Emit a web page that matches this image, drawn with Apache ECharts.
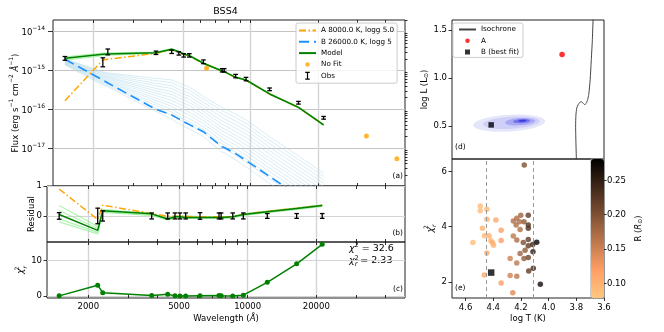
<!DOCTYPE html>
<html>
<head>
<meta charset="utf-8">
<script src="https://cdn.jsdelivr.net/npm/echarts@6/dist/echarts.min.js"></script>
<style>
html, body { margin: 0; padding: 0; background: #fff; }
#chart { width: 664px; height: 332px; }
</style>
</head>
<body>
<div id="chart"></div>
<script>
// ---- SED fit (left panels) ----
var wavelengths = [1490, 2199, 2314, 3794, 4459, 4800, 5044, 5346, 6180, 7486, 7650, 8600, 9570, 12190, 16400, 21230];
var obsFlux = [2.07e-15, 1.69e-15, 3.06e-15, 2.88e-15, 3.06e-15, 2.78e-15, 2.47e-15, 2.47e-15, 1.69e-15, 1.02e-15, 1.02e-15, 7.24e-16, 6.07e-16, 3.3e-16, 1.49e-16, 6.1e-17];
var obsRelErr = [0.11, 0.26, 0.17, 0.10, 0.10, 0.10, 0.10, 0.10, 0.11, 0.10, 0.10, 0.10, 0.10, 0.08, 0.08, 0.08];
var modelFlux = [2.07e-15, 2.62e-15, 2.67e-15, 2.88e-15, 3.53e-15, 3.06e-15, 2.67e-15, 2.42e-15, 1.54e-15, 9.75e-16, 9.4e-16, 6.7e-16, 5.71e-16, 2.5e-16, 1.13e-16, 3.98e-17];
var compAFlux = [1.68e-16, 1.87e-15, 1.95e-15, 2.78e-15, 3.45e-15, 3.0e-15, 2.62e-15, 2.38e-15, 1.52e-15, 9.65e-16, 9.3e-16, 6.63e-16, 5.66e-16, 2.48e-16, 1.125e-16, 3.97e-17];
var compBFlux = [1.95e-15, 5.7e-16, 4.8e-16, 1.0e-16, 7.2e-17, 5.7e-17, 4.8e-17, 4.07e-17, 2.67e-17, 1.1e-17, 1.05e-17, 7.26e-18, 4.85e-18, 1.88e-18, 5.9e-19, 2.2e-19];
var modelSamples = [
  [2.25e-15, 2.80e-15, 2.85e-15, 3.00e-15, 3.65e-15, 3.15e-15, 2.74e-15, 2.48e-15, 1.57e-15, 9.9e-16, 9.55e-16, 6.8e-16, 5.8e-16, 2.55e-16, 1.16e-16, 4.1e-17],
  [1.97e-15, 2.70e-15, 2.74e-15, 2.93e-15, 3.58e-15, 3.10e-15, 2.70e-15, 2.45e-15, 1.55e-15, 9.8e-16, 9.45e-16, 6.75e-16, 5.75e-16, 2.52e-16, 1.14e-16, 4.0e-17],
  [1.85e-15, 2.42e-15, 2.50e-15, 2.76e-15, 3.42e-15, 2.98e-15, 2.60e-15, 2.36e-15, 1.50e-15, 9.6e-16, 9.25e-16, 6.6e-16, 5.62e-16, 2.45e-16, 1.10e-16, 3.86e-17]
];
// log10 flux of the B-component posterior samples
var compBSamplesLog = [
  [-14.70, -15.03, -15.06, -15.20, -15.24, -15.32, -15.37, -15.42, -15.67, -15.95, -15.98, -16.12, -16.27, -16.70, -17.20, -17.64],
  [-14.71, -15.05, -15.08, -15.26, -15.31, -15.40, -15.45, -15.50, -15.74, -16.03, -16.06, -16.21, -16.36, -16.79, -17.29, -17.72],
  [-14.72, -15.08, -15.11, -15.33, -15.39, -15.48, -15.53, -15.58, -15.82, -16.12, -16.15, -16.30, -16.45, -16.88, -17.38, -17.81],
  [-14.73, -15.10, -15.14, -15.39, -15.46, -15.55, -15.61, -15.66, -15.90, -16.21, -16.24, -16.39, -16.54, -16.97, -17.47, -17.90],
  [-14.75, -15.13, -15.17, -15.46, -15.54, -15.63, -15.69, -15.74, -15.98, -16.30, -16.32, -16.48, -16.63, -17.06, -17.56, -17.99],
  [-14.76, -15.15, -15.19, -15.52, -15.61, -15.70, -15.76, -15.82, -16.05, -16.38, -16.41, -16.57, -16.72, -17.15, -17.65, -18.08],
  [-14.77, -15.18, -15.22, -15.58, -15.69, -15.78, -15.84, -15.90, -16.13, -16.47, -16.50, -16.66, -16.82, -17.25, -17.74, -18.18],
  [-14.78, -15.20, -15.25, -15.64, -15.77, -15.86, -15.92, -15.98, -16.21, -16.55, -16.58, -16.74, -16.91, -17.33, -17.83, -18.26],
  [-14.80, -15.23, -15.28, -15.71, -15.85, -15.94, -16.00, -16.07, -16.29, -16.64, -16.67, -16.83, -17.00, -17.42, -17.92, -18.34],
  [-14.81, -15.25, -15.30, -15.77, -15.92, -16.02, -16.08, -16.15, -16.37, -16.72, -16.75, -16.92, -17.09, -17.51, -18.01, -18.43],
  [-14.82, -15.28, -15.33, -15.84, -16.00, -16.10, -16.17, -16.24, -16.45, -16.81, -16.84, -17.01, -17.18, -17.60, -18.10, -18.52],
  [-14.83, -15.31, -15.36, -15.90, -16.07, -16.18, -16.25, -16.32, -16.52, -16.89, -16.92, -17.09, -17.27, -17.69, -18.19, -18.61],
  [-14.84, -15.34, -15.39, -15.97, -16.15, -16.26, -16.33, -16.40, -16.60, -16.98, -17.01, -17.18, -17.36, -17.78, -18.28, -18.70],
  [-14.86, -15.37, -15.42, -16.05, -16.25, -16.36, -16.43, -16.50, -16.70, -17.10, -17.12, -17.30, -17.48, -17.90, -18.40, -18.80]
];
var noFitWl = [6380, 32960, 45060];
var noFitFlux = [1.15e-15, 2.07e-17, 5.4e-18];
var residModel = [0.05, -0.48, 0.17, 0.07, -0.10, -0.03, -0.03, -0.05, -0.05, -0.05, -0.05, -0.03, 0.05, 0.14, 0.25, 0.35];
var residA = [0.90, -0.12, 0.36, 0.08, -0.01, -0.01, -0.01, -0.02, -0.03, -0.03, -0.03, -0.02, 0.06, 0.15, 0.26, 0.36];
var residSamples = [
  [0.35, -0.35, 0.22, 0.08, -0.07, 0.00, 0.00, 0.00, -0.02, -0.03, -0.03, -0.02, 0.07, 0.16, 0.27, 0.37],
  [0.18, -0.42, 0.19, 0.06, -0.09, -0.02, -0.02, -0.03, -0.04, -0.04, -0.04, -0.03, 0.06, 0.15, 0.26, 0.36],
  [-0.10, -0.55, 0.14, 0.03, -0.12, -0.06, -0.06, -0.07, -0.07, -0.07, -0.07, -0.06, 0.03, 0.12, 0.23, 0.33],
  [-0.20, -0.60, 0.12, 0.02, -0.13, -0.08, -0.08, -0.08, -0.08, -0.08, -0.08, -0.07, 0.02, 0.11, 0.22, 0.32]
];
var chi2PerBand = [0.1, 3.1, 1.0, 0.17, 0.55, 0.1, 0.05, 0.05, 0.15, 0.2, 0.15, 0.05, 0.3, 3.9, 9.1, 14.6];
var majorWlTicks = [2000, 5000, 10000, 20000];
var minorWlTicks = [2000, 3000, 4000, 5000, 6000, 7000, 8000, 9000, 10000, 20000, 30000, 40000];
var fluxTicks = [1e-17, 1e-16, 1e-15, 1e-14];
var residTicks = [0, 1];
var chi2Ticks = [0, 10];

// ---- HR diagram and fit grid (right panels) ----
var isoLogT = [3.678, 3.684, 3.692, 3.700, 3.710, 3.718, 3.728, 3.740, 3.752, 3.763, 3.775, 3.787, 3.797, 3.803, 3.805, 3.803, 3.799];
var isoLogL = [1.65, 1.40, 1.185, 0.98, 0.83, 0.775, 0.735, 0.722, 0.738, 0.752, 0.745, 0.72, 0.685, 0.61, 0.50, 0.34, 0.12];
var starA = [3.903, 1.245];
var starB = [4.415, 0.51];
// density levels: centre logT, centre logL, half width, half height
var kdeLevels = [
  [4.285, 0.528, 0.26, 0.088],
  [4.27, 0.532, 0.205, 0.062],
  [4.205, 0.543, 0.108, 0.038],
  [4.195, 0.550, 0.062, 0.022],
  [4.19, 0.553, 0.03, 0.011]
];
var fitLogT = [4.494, 4.494, 4.446, 4.446, 4.381, 4.478, 4.343, 4.463, 4.430, 4.547, 4.417, 4.405, 4.398, 4.343, 4.446, 4.465, 4.343, 4.259,
  4.176, 4.278, 4.230, 4.278, 4.230, 4.144, 4.111, 4.060, 4.086, 4.113, 4.115, 4.147, 4.147, 4.147, 4.183, 4.170, 4.206, 4.178,
  4.255, 4.230, 4.206, 4.255, 4.230, 4.201, 4.211, 4.178, 4.147, 4.147, 4.147, 4.235];
var fitChi2 = [4.75, 4.58, 4.63, 4.27, 4.24, 3.94, 3.87, 3.67, 3.67, 3.43, 3.49, 3.42, 3.33, 3.50, 3.05, 2.25, 1.96, 1.61,
  6.23, 2.85, 2.69, 2.23, 2.21, 2.40, 2.50, 1.92, 3.44, 3.09, 3.36, 3.54, 3.31, 2.89, 3.43, 3.15, 3.03, 2.85,
  3.66, 3.52, 3.90, 4.21, 4.31, 4.41, 4.18, 4.18, 4.41, 4.06, 3.94, 4.06];
var fitRadius = [0.09, 0.09, 0.095, 0.10, 0.11, 0.10, 0.12, 0.095, 0.10, 0.09, 0.10, 0.105, 0.10, 0.12, 0.11, 0.11, 0.12, 0.14,
  0.20, 0.15, 0.16, 0.15, 0.16, 0.22, 0.24, 0.27, 0.28, 0.25, 0.24, 0.22, 0.22, 0.21, 0.20, 0.19, 0.18, 0.19,
  0.16, 0.17, 0.17, 0.17, 0.17, 0.18, 0.17, 0.19, 0.22, 0.23, 0.23, 0.17];
var bestFit = [4.415, 2.34];
var tempLimits = [4.445, 4.107];
var logTTicks = [3.6, 3.8, 4.0, 4.2, 4.4, 4.6];
var logLTicks = [0.5, 1.0, 1.5];
var chi2rTicks = [2, 4, 6];
var radiusTicks = [0.10, 0.15, 0.20, 0.25];

var FONT = 'DejaVu Sans';
var WL_MIN = 1318, WL_MAX = 48980;
var copperR = ['#ffc77f', '#ff9f65', '#bf784c', '#7f5033', '#402819', '#000000'];

function pairs(xs, ys) {
  return xs.map(function (x, i) { return [x, ys[i]]; });
}
function minorLogTicks() {
  var out = [];
  for (var e = -18; e <= -14; e++) {
    for (var m = 2; m <= 9; m++) out.push(m * Math.pow(10, e));
  }
  return out;
}
var supRich = {
  n: { fontSize: 8.5, fontFamily: FONT, verticalAlign: 'bottom', lineHeight: 12 },
  a: { fontSize: 8.5, fontFamily: FONT, fontStyle: 'italic', verticalAlign: 'bottom', lineHeight: 12 },
  s: { fontSize: 6, fontFamily: FONT, verticalAlign: 'top', lineHeight: 12 },
  c: { fontSize: 9, fontFamily: FONT, fontStyle: 'italic', verticalAlign: 'middle', lineHeight: 14 },
  t: { fontSize: 6, fontFamily: FONT, verticalAlign: 'top', lineHeight: 14, width: 0.01 },
  r: { fontSize: 6, fontFamily: FONT, fontStyle: 'italic', verticalAlign: 'bottom', lineHeight: 14 },
  sub: { fontSize: 6, fontFamily: FONT, verticalAlign: 'bottom', lineHeight: 12 }
};
var chiName = '{c|χ}{t|2}{r|r}';

function wlAxes(grid, labels) {
  function base(extra) {
    return Object.assign({
      type: 'log', logBase: 10, gridIndex: grid, min: WL_MIN, max: WL_MAX,
      axisLine: { show: false, onZero: false }
    }, extra);
  }
  var tickAxis = {
    axisTick: { show: true, inside: true, length: 3, customValues: minorWlTicks, lineStyle: { color: '#000', width: 0.8 } },
    axisLabel: { show: false }, splitLine: { show: false }
  };
  return [
    base({
      position: 'bottom',
      axisTick: { show: false, customValues: majorWlTicks },
      splitLine: { show: true, lineStyle: { color: '#d4d4d4', width: 1.4 } },
      axisLabel: { show: labels, customValues: majorWlTicks, fontSize: 8.5, fontFamily: FONT, color: '#000', margin: 4,
        formatter: function (v) { return String(Math.round(v)); } },
      name: labels ? '{n|Wavelength (}{a|Å}{n|)}' : '', nameLocation: 'middle', nameGap: 13,
      nameTextStyle: { color: '#000', rich: supRich }
    }),
    base(Object.assign({ position: 'bottom' }, tickAxis)),
    base(Object.assign({ position: 'top' }, tickAxis))
  ];
}

function errRender(params, api) {
  var x = api.value(0);
  var lo = api.coord([x, api.value(2)]);
  var hi = api.coord([x, api.value(3)]);
  var cap = 2.3;
  var st = { stroke: '#000', lineWidth: 1.3 };
  return { type: 'group', children: [
    { type: 'line', shape: { x1: lo[0], y1: lo[1], x2: hi[0], y2: hi[1] }, style: st },
    { type: 'line', shape: { x1: lo[0] - cap, y1: lo[1], x2: lo[0] + cap, y2: lo[1] }, style: st },
    { type: 'line', shape: { x1: hi[0] - cap, y1: hi[1], x2: hi[0] + cap, y2: hi[1] }, style: st }
  ] };
}

var kdeColors = ['#e6e6fb', '#cfcff7', '#a9a9f3', '#7373ec', '#3a3ae0'];
function kdeRender(params, api) {
  var c = api.coord([api.value(0), api.value(1)]);
  var s = api.size([api.value(2), api.value(3)]);
  return {
    type: 'ellipse', x: c[0], y: c[1], rotation: 0.06,
    shape: { cx: 0, cy: 0, rx: s[0], ry: s[1] },
    style: { fill: kdeColors[params.dataIndex] }
  };
}

var corners = 'M0,0L0.01,0L0,0.01Z M17,8L16.99,8L17,7.99Z ';
var dotIcon = 'path://' + corners + 'M6.25,4A2.25,2.25,0,1,0,10.75,4A2.25,2.25,0,1,0,6.25,4Z';
var errIcon = 'path://' + corners + 'M6.25,0H10.75V1.2H9.1V6.8H10.75V8H6.25V6.8H7.9V1.2H6.25Z';
var squareIcon = 'path://' + corners + 'M6,1.5H11V6.5H6Z';
function lineEntry(name) { return { name: name, itemStyle: { opacity: 0 } }; }

var chart = echarts.init(document.getElementById('chart'), null, { renderer: 'canvas' });

var xAxes = [].concat(wlAxes(0, false), wlAxes(1, false), wlAxes(2, true));
var tAxisBase = { type: 'value', inverse: true, min: 3.6, max: 4.698, axisLine: { show: false, onZero: false }, splitLine: { show: false } };
xAxes.push(Object.assign({}, tAxisBase, { gridIndex: 3, axisTick: { show: false }, axisLabel: { show: false } }));
xAxes.push(Object.assign({}, tAxisBase, {
  gridIndex: 4,
  axisTick: { show: true, length: 3, customValues: logTTicks, lineStyle: { color: '#000', width: 0.8 } },
  axisLabel: { customValues: logTTicks, fontSize: 8.5, fontFamily: FONT, color: '#000', margin: 5,
    formatter: function (v) { return v.toFixed(1); } },
  name: 'log T (K)', nameLocation: 'middle', nameGap: 16, nameTextStyle: { fontSize: 8.5, fontFamily: FONT, color: '#000' }
}));
xAxes.push({ type: 'value', gridIndex: 5, min: 0, max: 1, show: false });

var yTick = { show: true, length: 3.5, lineStyle: { color: '#000', width: 0.8 } };
var yLabel = { fontSize: 8.5, fontFamily: FONT, color: '#000' };
var yAxes = [
  { type: 'log', logBase: 10, gridIndex: 0, min: 1.07e-18, max: 2e-14,
    axisLine: { show: false, onZero: false },
    axisTick: Object.assign({}, yTick, { length: 5, customValues: fluxTicks }),
    splitLine: { show: true, lineStyle: { color: '#c4c4c4', width: 1 } },
    axisLabel: { customValues: fluxTicks, margin: 8, color: '#000',
      formatter: function (v) { return '{b|10}{e|−' + Math.abs(Math.round(Math.log10(v))) + '}'; },
      rich: {
        b: { fontSize: 8.5, fontFamily: FONT, verticalAlign: 'bottom', lineHeight: 12 },
        e: { fontSize: 6, fontFamily: FONT, verticalAlign: 'top', lineHeight: 12 }
      } },
    name: '{n|Flux (erg s}{s|−1}{n| cm}{s|−2}{n| }{a|Å}{s|−1}{n|)}', nameLocation: 'middle', nameGap: 33, nameMoveOverlap: false,
    nameTextStyle: { color: '#000', rich: supRich } },
  { type: 'log', logBase: 10, gridIndex: 0, min: 1.07e-18, max: 2e-14,
    axisLine: { show: false, onZero: false },
    axisTick: Object.assign({}, yTick, { length: 2.5, customValues: minorLogTicks() }),
    splitLine: { show: false }, axisLabel: { show: false } },
  { type: 'value', gridIndex: 1, min: -0.87, max: 1,
    axisLine: { show: false, onZero: false },
    axisTick: Object.assign({}, yTick, { customValues: residTicks }),
    splitLine: { show: true, lineStyle: { color: '#d4d4d4', width: 1.2 } },
    axisLabel: Object.assign({}, yLabel, { customValues: residTicks, margin: 5 }),
    name: 'Residual', nameLocation: 'middle', nameGap: 11, nameMoveOverlap: false,
    nameTextStyle: { fontSize: 8.5, fontFamily: FONT, color: '#000' } },
  { type: 'value', gridIndex: 2, min: -0.5, max: 15.25,
    axisLine: { show: false, onZero: false },
    axisTick: Object.assign({}, yTick, { customValues: chi2Ticks }),
    splitLine: { show: true, lineStyle: { color: '#d4d4d4', width: 1.2 } },
    axisLabel: Object.assign({}, yLabel, { customValues: chi2Ticks, margin: 5 }),
    name: chiName, nameLocation: 'middle', nameGap: 19, nameMoveOverlap: false,
    nameTextStyle: { color: '#000', rich: supRich } },
  { type: 'value', gridIndex: 3, min: 0.154, max: 1.605,
    axisLine: { show: false, onZero: false },
    axisTick: Object.assign({}, yTick, { customValues: logLTicks }),
    splitLine: { show: false },
    axisLabel: Object.assign({}, yLabel, { customValues: logLTicks, margin: 5, formatter: function (v) { return v.toFixed(1); } }),
    name: '{n|log L (L}{sub|⊙}{n|)}', nameLocation: 'middle', nameGap: 22, nameTextStyle: { color: '#000', rich: supRich } },
  { type: 'value', gridIndex: 4, min: 1.42, max: 6.45,
    axisLine: { show: false, onZero: false },
    axisTick: Object.assign({}, yTick, { customValues: chi2rTicks }),
    splitLine: { show: false },
    axisLabel: Object.assign({}, yLabel, { customValues: chi2rTicks, margin: 5 }),
    name: chiName, nameLocation: 'middle', nameGap: 12, nameTextStyle: { color: '#000', rich: supRich } },
  { type: 'value', gridIndex: 5, min: 0.079, max: 0.281, position: 'right',
    axisLine: { show: false, onZero: false },
    axisTick: Object.assign({}, yTick, { length: 2.5, customValues: radiusTicks }),
    splitLine: { show: false },
    axisLabel: Object.assign({}, yLabel, { customValues: radiusTicks, margin: 3, formatter: function (v) { return v.toFixed(2); } }),
    name: '{n|R (}{a|R}{sub|⊙}{n|)}', nameLocation: 'middle', nameGap: 27, nameTextStyle: { color: '#000', rich: supRich } }
];

var series = [];
compBSamplesLog.forEach(function (s) {
  series.push({ type: 'line', xAxisIndex: 0, yAxisIndex: 0, silent: true, symbol: 'none', z: 1,
    data: pairs(wavelengths, s.map(function (v) { return Math.pow(10, v); })),
    lineStyle: { color: '#add8e6', width: 0.7, opacity: 0.65 } });
});
modelSamples.forEach(function (s) {
  series.push({ type: 'line', xAxisIndex: 0, yAxisIndex: 0, silent: true, symbol: 'none', z: 1,
    data: pairs(wavelengths, s), lineStyle: { color: '#90ee90', width: 1.2, opacity: 0.7 } });
});
series.push({ name: 'A 8000.0 K, logg 5.0', type: 'line', xAxisIndex: 0, yAxisIndex: 0, symbol: 'none', z: 3,
  data: pairs(wavelengths, compAFlux), lineStyle: { color: '#ffa500', width: 1.5, type: [7, 2.5, 1.5, 2.5] }, itemStyle: { color: '#ffa500' } });
series.push({ name: 'B 26000.0 K, logg 5', type: 'line', xAxisIndex: 0, yAxisIndex: 0, symbol: 'none', z: 3,
  data: pairs(wavelengths, compBFlux), lineStyle: { color: '#1e90ff', width: 1.6, type: [10, 5] }, itemStyle: { color: '#1e90ff' } });
series.push({ name: 'Model', type: 'line', xAxisIndex: 0, yAxisIndex: 0, symbol: 'none', z: 4,
  data: pairs(wavelengths, modelFlux), lineStyle: { color: '#008000', width: 1.5 }, itemStyle: { color: '#008000' } });
series.push({ name: 'No Fit', type: 'scatter', xAxisIndex: 0, yAxisIndex: 0, symbolSize: 5, z: 4,
  data: pairs(noFitWl, noFitFlux), itemStyle: { color: '#ffa500' } });
series.push({ name: 'Obs', type: 'custom', xAxisIndex: 0, yAxisIndex: 0, z: 5, renderItem: errRender,
  encode: { x: 0, y: 1 }, itemStyle: { color: '#000' },
  data: wavelengths.map(function (w, i) { return [w, obsFlux[i], obsFlux[i] * (1 - obsRelErr[i]), obsFlux[i] * (1 + obsRelErr[i])]; }) });

residSamples.forEach(function (s) {
  series.push({ type: 'line', xAxisIndex: 3, yAxisIndex: 2, silent: true, symbol: 'none', z: 1,
    data: pairs(wavelengths, s), lineStyle: { color: '#90ee90', width: 1.2, opacity: 0.7 } });
});
series.push({ type: 'line', xAxisIndex: 3, yAxisIndex: 2, symbol: 'none', z: 3,
  data: pairs(wavelengths, residA), lineStyle: { color: '#ffa500', width: 1.5, type: [7, 2.5, 1.5, 2.5] } });
series.push({ type: 'line', xAxisIndex: 3, yAxisIndex: 2, symbol: 'none', z: 4,
  data: pairs(wavelengths, residModel), lineStyle: { color: '#008000', width: 1.5 } });
series.push({ type: 'custom', xAxisIndex: 3, yAxisIndex: 2, z: 5, renderItem: errRender, encode: { x: 0, y: 1 },
  data: wavelengths.map(function (w, i) { return [w, 0, -obsRelErr[i], obsRelErr[i]]; }) });

series.push({ type: 'line', xAxisIndex: 6, yAxisIndex: 3, symbol: 'circle', symbolSize: 5, z: 4,
  data: pairs(wavelengths, chi2PerBand), lineStyle: { color: '#008000', width: 1.5 }, itemStyle: { color: '#008000' } });

series.push({ type: 'custom', xAxisIndex: 9, yAxisIndex: 4, z: 1, renderItem: kdeRender, silent: true,
  encode: { x: 0, y: 1 }, data: kdeLevels });
series.push({ name: 'Isochrone', type: 'line', xAxisIndex: 9, yAxisIndex: 4, symbol: 'none', smooth: 0.2, z: 2,
  data: pairs(isoLogT, isoLogL), lineStyle: { color: '#444', width: 1 }, itemStyle: { color: '#444' } });
series.push({ name: 'A', type: 'scatter', xAxisIndex: 9, yAxisIndex: 4, symbolSize: 5.5, z: 3,
  data: [starA], itemStyle: { color: '#ff0000' } });
series.push({ name: 'B (best fit)', type: 'scatter', xAxisIndex: 9, yAxisIndex: 4, symbol: 'rect', symbolSize: 5.5, z: 3,
  data: [starB], itemStyle: { color: '#000' } });

var fitSeriesIndex = series.length;
series.push({ type: 'scatter', xAxisIndex: 10, yAxisIndex: 5, symbolSize: 5.5, z: 3,
  data: fitLogT.map(function (t, i) { return [t, fitChi2[i], fitRadius[i]]; }) });
series.push({ type: 'scatter', xAxisIndex: 10, yAxisIndex: 5, symbol: 'rect', symbolSize: 6.5, z: 4,
  data: [bestFit], itemStyle: { color: '#000' },
  markLine: { silent: true, symbol: ['none', 'none'], label: { show: false },
    lineStyle: { color: '#999', type: [4, 3], width: 1 },
    data: tempLimits.map(function (v) { return { xAxis: v }; }) } });

function txt(x, y, text, align, size) {
  return { type: 'text', x: x, y: y, silent: true,
    style: { text: text, fontSize: size || 7.5, fontFamily: FONT, fill: '#000', align: align || 'left', verticalAlign: 'middle' } };
}
var chiRich = {
  c: { fontSize: 9.5, fontFamily: FONT, fontStyle: 'italic', verticalAlign: 'middle', lineHeight: 13 },
  t: { fontSize: 6.5, fontFamily: FONT, verticalAlign: 'top', lineHeight: 13, width: 0.01 },
  u: { fontSize: 6.5, fontFamily: FONT, verticalAlign: 'top', lineHeight: 13 },
  r: { fontSize: 6.5, fontFamily: FONT, fontStyle: 'italic', verticalAlign: 'bottom', lineHeight: 13 },
  n: { fontSize: 9.5, fontFamily: FONT, verticalAlign: 'middle', lineHeight: 13 }
};

var legendText = { fontSize: 7.2, fontFamily: FONT, color: '#000', lineHeight: 9 };
var option = {
  animation: false,
  backgroundColor: '#fff',
  textStyle: { fontFamily: FONT },
  grid: [
    { left: 47, top: 20, width: 358, height: 166 },
    { left: 47, top: 186, width: 358, height: 56 },
    { left: 47, top: 242, width: 358, height: 56 },
    { left: 452, top: 20, width: 152, height: 139 },
    { left: 452, top: 159, width: 152, height: 139 },
    { left: 591, top: 159, width: 13, height: 139, borderColor: '#999' }
  ].map(function (g) {
    return Object.assign({ show: true, borderColor: '#222', borderWidth: 1, backgroundColor: 'transparent', containLabel: false }, g);
  }),
  xAxis: xAxes,
  yAxis: yAxes,
  legend: [
    { left: 296, top: 23, orient: 'vertical', itemWidth: 17, itemHeight: 8, itemGap: 2.3,
      padding: [3, 3, 3, 2], borderColor: '#cccccc', borderWidth: 1, borderRadius: 2,
      backgroundColor: 'rgba(255,255,255,0.8)', textStyle: legendText, selectedMode: false,
      data: [lineEntry('A 8000.0 K, logg 5.0'), lineEntry('B 26000.0 K, logg 5'), lineEntry('Model'),
        { name: 'No Fit', icon: dotIcon }, { name: 'Obs', icon: errIcon }] },
    { left: 453, top: 23, orient: 'vertical', itemWidth: 17, itemHeight: 8, itemGap: 2.2,
      padding: [2, 4, 1, 5], borderColor: '#cccccc', borderWidth: 1, borderRadius: 2,
      backgroundColor: 'rgba(255,255,255,0.8)', textStyle: legendText, selectedMode: false,
      data: [lineEntry('Isochrone'), { name: 'A', icon: dotIcon }, { name: 'B (best fit)', icon: squareIcon }] }
  ],
  visualMap: [{
    type: 'continuous', seriesIndex: fitSeriesIndex, dimension: 2, min: 0.079, max: 0.281,
    inRange: { color: copperR }, show: true, calculable: false, hoverLink: false,
    left: 591, top: 159, itemWidth: 13, itemHeight: 139, padding: 0
  }],
  graphic: [
    txt(225.5, 12, 'BSS4', 'center', 9.5),
    txt(403, 176.5, '(a)', 'right'),
    txt(403, 233.5, '(b)', 'right'),
    txt(403, 289, '(c)', 'right'),
    txt(455, 147.5, '(d)', 'left'),
    txt(455, 288, '(e)', 'left'),
    { type: 'text', x: 349, y: 248.5, silent: true,
      style: { text: '{c|χ}{u|2}{n| = 32.6}', rich: chiRich, verticalAlign: 'middle', fill: '#000' } },
    { type: 'text', x: 349, y: 261, silent: true,
      style: { text: '{c|χ}{t|2}{r|r}{n| = 2.33}', rich: chiRich, verticalAlign: 'middle', fill: '#000' } }
  ],
  series: series
};
chart.setOption(option);
</script>
</body>
</html>
